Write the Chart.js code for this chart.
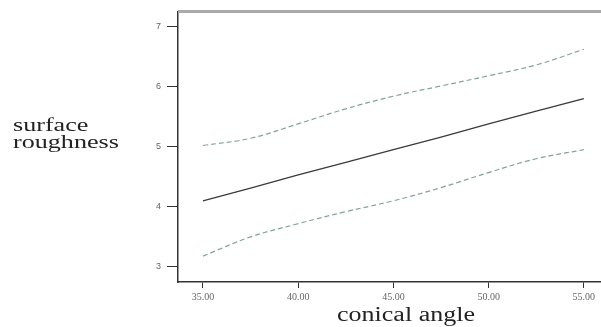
<!DOCTYPE html>
<html>
<head>
<meta charset="utf-8">
<script src="https://cdn.jsdelivr.net/npm/chart.js@4"></script>
<style>
  html, body { margin: 0; padding: 0; background: #fff; }
  #wrap { width: 601px; height: 327px; position: relative; }
</style>
</head>
<body>
<div id="wrap"><canvas id="chart"></canvas></div>
<script>
const angles = [35, 37.5, 40, 42.5, 45, 47.5, 50, 52.5, 55];
const upperBand = [5.02, 5.14, 5.38, 5.63, 5.84, 6.01, 6.18, 6.36, 6.62];
const fitLine = [4.10, 4.31, 4.53, 4.74, 4.95, 5.16, 5.38, 5.59, 5.80];
const lowerBand = [3.18, 3.50, 3.72, 3.92, 4.10, 4.32, 4.57, 4.80, 4.95];
const xTicks = [35, 40, 45, 50, 55];
const yTicks = [3, 4, 5, 6, 7];

const toPoints = vals => vals.map((v, i) => ({ x: angles[i], y: v }));

// axis titles + gray top frame line
const extras = {
  id: 'extras',
  afterDraw(chart) {
    const ctx = chart.ctx;
    const area = chart.chartArea;
    ctx.save();
    ctx.strokeStyle = '#aaa';
    ctx.lineWidth = 3;
    ctx.beginPath();
    ctx.moveTo(area.left, area.top);
    ctx.lineTo(area.right, area.top);
    ctx.stroke();

    ctx.fillStyle = '#222';
    ctx.textBaseline = 'alphabetic';
    ctx.font = '18px "Liberation Serif"';
    ctx.save();
    ctx.translate(13, 131);
    ctx.scale(1.45, 1);
    ctx.fillText('surface', 0, 0);
    ctx.fillText('roughness', 0, 17);
    ctx.restore();

    ctx.font = '20px "Liberation Serif"';
    ctx.textAlign = 'center';
    ctx.translate(406, 321);
    ctx.scale(1.3, 1);
    ctx.fillText('conical angle', 0, 0);
    ctx.restore();
  }
};

new Chart(document.getElementById('chart'), {
  type: 'line',
  data: {
    datasets: [
      {
        label: 'upper',
        data: toPoints(upperBand),
        borderColor: 'rgba(100,140,130,0.8)',
        borderWidth: 1.2,
        borderDash: [5, 3],
        tension: 0.4,
        pointRadius: 0,
        fill: false
      },
      {
        label: 'fit',
        data: toPoints(fitLine),
        borderColor: '#3a3a3a',
        borderWidth: 1.3,
        pointRadius: 0,
        fill: false
      },
      {
        label: 'lower',
        data: toPoints(lowerBand),
        borderColor: 'rgba(100,140,130,0.8)',
        borderWidth: 1.2,
        borderDash: [5, 3],
        tension: 0.4,
        pointRadius: 0,
        fill: false
      }
    ]
  },
  options: {
    responsive: true, maintainAspectRatio: false,
    animation: false,
    layout: { padding: { top: 11, right: 0, left: 0, bottom: 0 } },
    plugins: { legend: { display: false }, tooltip: { enabled: false } },
    scales: {
      x: {
        type: 'linear',
        min: 33.69, max: 55.9,
        afterBuildTicks: s => { s.ticks = xTicks.map(v => ({ value: v })); },
        afterFit: s => { s.height = 45; },
        border: { display: true, color: '#333', width: 1.5 },
        grid: { drawOnChartArea: false, drawTicks: true, tickLength: 6, color: '#333' },
        ticks: {
          padding: 3,
          maxRotation: 0,
          color: '#666',
          font: { family: 'Liberation Serif', size: 10 },
          callback: v => Number(v).toFixed(2)
        }
      },
      y: {
        min: 2.75, max: 7.25,
        afterBuildTicks: s => { s.ticks = yTicks.map(v => ({ value: v })); },
        afterFit: s => { s.width = 178; },
        border: { display: true, color: '#333', width: 1.5 },
        grid: { drawOnChartArea: false, drawTicks: true, tickLength: 11, color: '#333' },
        ticks: {
          padding: 6,
          color: '#666',
          font: { family: 'Liberation Sans', size: 9 },
          callback: v => v
        }
      }
    }
  },
  plugins: [extras]
});
</script>
</body>
</html>
